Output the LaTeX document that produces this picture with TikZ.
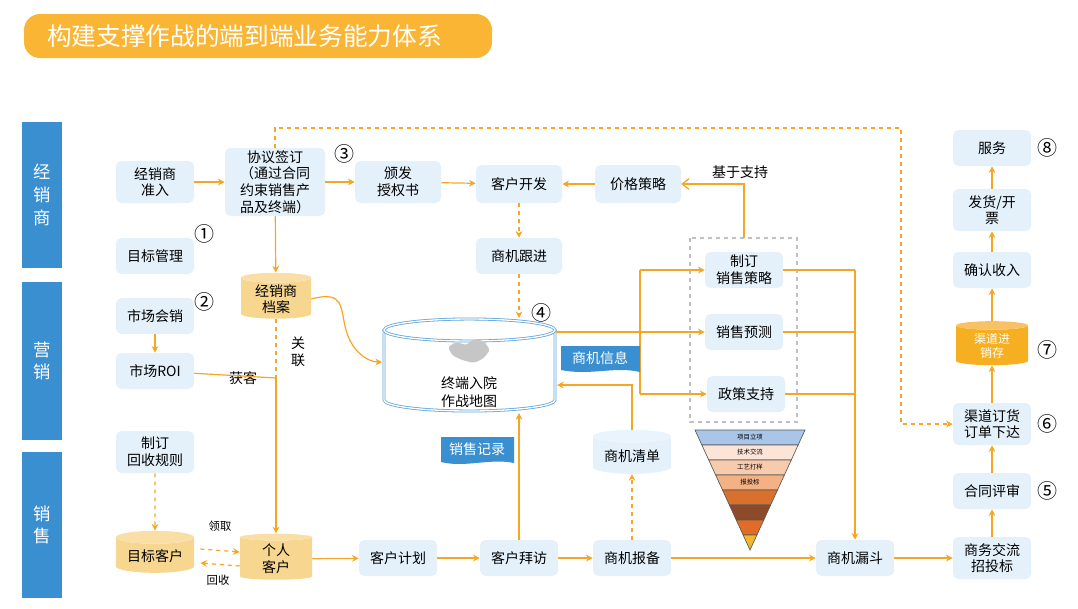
\documentclass[tikz,border=0pt]{standalone}
\usepackage{fontspec}
\setmainfont{Noto Sans CJK SC}
\usetikzlibrary{shapes.geometric,arrows.meta,calc}
\definecolor{org}{HTML}{F5A623}
\definecolor{lb}{HTML}{E4F1FB}
\definecolor{bb}{HTML}{3A8FD0}
\definecolor{yl}{HTML}{F7D68F}
\definecolor{title}{HTML}{FBB535}
\begin{document}
\begin{tikzpicture}[x=0.75pt,y=-0.75pt,
  font=\fontsize{10.5}{12.5}\selectfont,
  box/.style 2 args={draw=none,fill=lb,rounded corners=4pt,align=center,minimum width=#1*0.75pt,minimum height=#2*0.75pt,inner sep=1pt},
  cyl/.style n args={3}{cylinder,shape border rotate=90,aspect=0.22,draw=none,cylinder uses custom fill,cylinder body fill=#3,cylinder end fill=#3!80!white,align=center,minimum width=#1*0.75pt,minimum height=#2*0.75pt,inner sep=1pt},
  side/.style={fill=bb,text=white,align=center,minimum width=40*0.75pt,font=\fontsize{13}{17}\selectfont},
  num/.style={font=\fontsize{15}{15}\selectfont,inner sep=0pt},
  ar/.style={draw=org,line width=0.9pt,-{Stealth[length=5pt,width=5pt]}},
  ln/.style={draw=org,line width=0.9pt},
  da/.style={ar,dashed},
  lbl/.style={font=\fontsize{10.5}{13}\selectfont,align=center},
  sm/.style={font=\fontsize{8}{9}\selectfont},
  tag/.style={fill=bb,text=white},
  mapline/.style={draw=bb!80,double=white,double distance=1pt,line width=0.6pt}
]
\useasboundingbox (0,0) rectangle (1078,608);
% title
\node[fill=title,rounded corners=12pt,minimum width=468*0.75pt,minimum height=44*0.75pt] (title) at (258,36) {};
\node[anchor=west,text=white,font=\fontsize{18.5}{20}\selectfont,inner sep=0pt] (titlet) at (47,36) {构建支撑作战的端到端业务能力体系};
% side bars
\node[side,minimum height=146*0.75pt] (s1) at (42,195) {经\\销\\商};
\node[side,minimum height=158*0.75pt] (s2) at (42,361) {营\\销};
\node[side,minimum height=146*0.75pt] (s3) at (42,525) {销\\售};
% boxes
\node[box={78}{42}] (zr) at (155,182) {经销商\\准入};
\node[box={100}{68}] (xy) at (275,182) {协议签订\\（通过合同\\约束销售产\\品及终端）};
\node[num] (n3) at (344,154) {③};
\node[box={86}{42}] (bf) at (398,182) {颁发\\授权书};
\node[box={86}{38}] (kf) at (519,184) {客户开发};
\node[box={86}{38}] (jg) at (638,184) {价格策略};
\node[lbl] (jy) at (740,172) {基于支持};
\node[box={78}{36}] (mb) at (155,256) {目标管理};
\node[num] (n1) at (204,234) {①};
\node[box={86}{36}] (sj) at (519,256) {商机跟进};
\node[cyl={70}{44}{yl}] (da) at (276,299) {经销商\\档案};
\node[box={78}{36}] (hx) at (155,316) {市场会销};
\node[num] (n2) at (204,302) {②};
\node[box={78}{36}] (roi) at (155,371) {市场ROI};
\node[lbl] (gl) at (298,352) {关\\联};
\node[lbl] (hk) at (243,378) {获客};
% big cylinder (drawn)
\path[mapline,fill=white] (384,330) -- (384,400) arc[start angle=180,end angle=0,x radius=85.5,y radius=11] -- (555,330);
\draw[mapline] (469.5,330) ellipse[x radius=85.5,y radius=11];
\coordinate (map) at (469.5,365);
\node[lbl] (mapt) at (469,392) {终端入院\\作战地图};
\fill[gray!45,rounded corners=2pt] (452,355)--(448,347)--(456,342)--(466,345)--(474,339)--(484,341)--(490,350)--(484,358)--(474,363)--(462,360)--cycle;
\node[num] (n4) at (541,313) {④};
\node[cyl={78}{44}{lb}] (qd) at (632,456) {商机清单};
% strategy group
\draw[gray!50,dashed,line width=0.8pt] (690,238) rectangle (797,422);
\coordinate (gtop) at (744,238);
\node[box={78}{36}] (zd) at (744,270) {制订\\销售策略};
\node[box={78}{36}] (yc) at (744,332) {销售预测};
\node[box={78}{36}] (zc) at (746,394) {政策支持};
% funnel
\foreach \i/\c in {0/A9C5E8,1/FCE4D6,2/F8CBAD,3/F4B183,4/D9712E,5/8B4A2A,6/E06C27,7/F0B92C}{
  \pgfmathsetmacro\ya{430+\i*15}\pgfmathsetmacro\yb{430+(\i+1)*15}
  \pgfmathsetmacro\wa{55*(550-\ya)/120}\pgfmathsetmacro\wb{55*(550-\yb)/120}
  \definecolor{fc}{HTML}{\c}
  \filldraw[fill=fc,draw=gray!70!black,line width=0.5pt] (750-\wa,\ya)--(750+\wa,\ya)--(750+\wb,\yb)--(750-\wb,\yb)--cycle;
}
\node[sm,scale=0.6] (f1) at (750,437.5) {项目立项};
\node[sm,scale=0.6] (f2) at (750,452.5) {技术交流};
\node[sm,scale=0.6] (f3) at (750,467.5) {工艺打样};
\node[sm,scale=0.6] (f4) at (750,482.5) {报投标};
% bottom row
\node[box={78}{42}] (hs) at (155,452) {制订\\回收规则};
\node[cyl={78}{42}{yl}] (mk) at (155,556) {目标客户};
\node[cyl={72}{46}{yl}] (gr) at (276,559) {个人\\客户};
\node[font=\fontsize{8.5}{9}\selectfont] (lq) at (220,526) {领取};
\node[font=\fontsize{8.5}{9}\selectfont] (hsl) at (218,580) {回收};
\node[box={78}{36}] (jh) at (398,558) {客户计划};
\node[box={78}{36}] (bj) at (519,558) {客户拜访};
\node[box={78}{36}] (bb) at (632,558) {商机报备};
\node[box={78}{36}] (ld) at (855,558) {商机漏斗};
\node[box={78}{42}] (zb) at (992,558) {商务交流\\招投标};
% right column
\node[box={78}{36}] (ps) at (992,491) {合同评审};
\node[num] (n5) at (1047,491) {⑤};
\node[box={78}{42}] (dh) at (992,424) {渠道订货\\订单下达};
\node[num] (n6) at (1047,424) {⑥};
\node[cylinder,shape border rotate=90,aspect=0.22,draw=none,cylinder uses custom fill,cylinder body fill=org!90!yellow,cylinder end fill=org!70!white,align=center,minimum width=72*0.75pt,minimum height=44*0.75pt,inner sep=1pt,text=white,font=\fontsize{9}{11}\selectfont] (jxc) at (992,346) {渠道进\\销存};
\node[num] (n7) at (1047,350) {⑦};
\node[box={78}{36}] (sr) at (992,270) {确认收入};
\node[box={78}{42}] (fh) at (992,210) {发货/开\\票};
\node[box={78}{36}] (fw) at (992,148) {服务};
\node[num] (n8) at (1047,148) {⑧};
% connectors
\draw[ar] (zr) -- (xy);
\draw[ar] (xy) -- (bf);
\draw[ar] (bf) -- (kf);
\draw[ar] (jg) -- (kf);
\draw[ln,-{Straight Barb[length=5pt,width=8pt]}] (gtop) |- (jg);
\draw[da] (kf) -- (sj);
\draw[da] (sj) -- (519,318);
\draw[ar] (xy) -- (da);
\draw[ln,dashed] (da.bottom) -- (276,378);
\draw[ar] (276,378) -- (gr.top);
\draw[ln] (roi) -- (276,378);
\draw[ar] (da.east) .. controls (345,290) and (340,308) .. (346,330) .. controls (352,352) and (368,362) .. (382,362);
\draw[ar] (hx) -- (roi);
\draw[da] (hs) -- (mk);
\draw[da] ($(mk.east)+(6,-7)$) -- ($(gr.west)+(0,-7)$);
\draw[da] ($(gr.west)+(0,7)$) -- ($(mk.east)+(6,7)$);
\draw[ar] (gr) -- (jh);
\draw[ar] (jh) -- (bj);
\draw[ar] (bj) -- (bb);
\draw[ar] (bb) -- (ld);
\draw[ar] (ld) -- (zb);
\draw[ar] (bj) -- (519,413);
\draw[da] (bb) -- (qd);
\draw[ar] (qd.top) |- (557,385);
\draw[ar] (556,332) -- (yc);
\draw[ln] (640,332) -- (640,270);
\draw[ln] (640,332) -- (640,394);
\draw[ar] (640,270) -- (zd);
\draw[ar] (640,394) -- (zc);
\draw[ln] (zd) -- (855,270);
\draw[ln] (yc) -- (855,332);
\draw[ln] (zc) -- (855,394);
\draw[ar] (855,270) -- (ld);
\draw[ar] (zb) -- (ps);
\draw[ar] (ps) -- (dh);
\draw[ar] (dh) -- (jxc.bottom);
\draw[ar] (jxc.top) -- (sr);
\draw[ar] (sr) -- (fh);
\draw[ar] (fh) -- (fw);
\draw[da] (xy.north) -- (275,128) -- (901,128) |- (dh.west);
% tags
\path[tag] (561,346)--(640,346)--(640,372) .. controls (615,366) and (590,376) .. (561,370)--cycle;
\node[text=white] (sjxx) at (600,358) {商机信息};
\path[tag] (441,437)--(514,437)--(514,463) .. controls (490,458) and (465,468) .. (441,462)--cycle;
\node[text=white] (xsjl) at (477,449) {销售记录};
\end{tikzpicture}
\end{document}
